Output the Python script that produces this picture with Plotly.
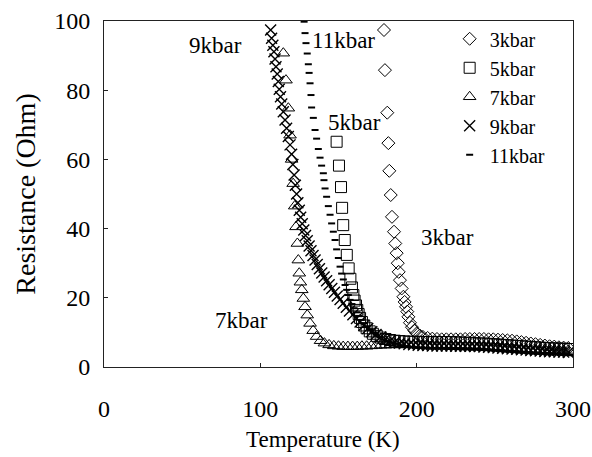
import plotly.graph_objects as go

# ---- data (Temperature K, Resistance Ohm) ----
kbar3 = [(179.1, 97.4), (179.7, 85.8), (181.2, 73.5), (181.9, 64.7), (182.5, 56.7),
         (183.4, 49.7), (184.2, 43.4), (185.5, 39.1), (186.3, 35.7), (187.2, 32.9),
         (187.9, 30.0), (188.5, 27.5), (189.3, 25.1), (190.4, 22.7), (191.5, 20.3),
         (192.3, 18.8), (193.2, 17.4), (194.0, 16.0), (194.7, 14.5), (195.7, 12.8),
         (197.0, 11.5), (198.5, 10.5), (200.0, 9.7), (202.0, 9.1), (204.0, 8.7),
         (207, 8.4), (210, 8.2), (213, 8.1), (216, 8.0), (219, 8.0), (222, 8.0),
         (225, 8.0), (228, 8.0), (231, 8.1), (234, 8.1), (237, 8.1), (240, 8.1),
         (243, 8.1), (246, 8.0), (249, 8.0), (252, 7.9), (255, 7.8), (258, 7.7),
         (261, 7.6), (264, 7.4), (267, 7.2), (270, 7.0), (273, 6.8), (276, 6.6),
         (279, 6.4), (282, 6.2), (285, 6.0), (288, 5.9), (291, 5.7), (294, 5.6),
         (297, 5.5)]

kbar5 = [(148.8, 65.1), (150.3, 58.2), (151.6, 52.0), (152.3, 46.0), (153.0, 41.0),
         (154.0, 36.7), (155.3, 32.4), (156.5, 28.5), (157.6, 25.5), (158.6, 23.0),
         (159.5, 20.8), (160.3, 19.2), (161.2, 17.8), (162.0, 16.5), (162.9, 15.3),
         (163.8, 14.2), (165.0, 13.0), (166.5, 12.0), (168.0, 11.2), (170.0, 10.3),
         (172.0, 9.6), (174.5, 9.0), (177.0, 8.5), (180.0, 8.1), (183.0, 7.8),
         (186.0, 7.6), (189.0, 7.5), (192, 7.4), (195, 7.3), (198, 7.3), (201, 7.3),
         (204, 7.2), (207, 7.2), (210, 7.2), (213, 7.2), (216, 7.2), (219, 7.2),
         (222, 7.2), (225, 7.1), (228, 7.1), (231, 7.0), (234, 7.0), (237, 6.9),
         (240, 6.8), (243, 6.8), (246, 6.7), (249, 6.6), (252, 6.5), (255, 6.4),
         (258, 6.3), (261, 6.2), (264, 6.1), (267, 6.0), (270, 5.9), (273, 5.8),
         (276, 5.7), (279, 5.6), (282, 5.5), (285, 5.4), (288, 5.4), (291, 5.3),
         (294, 5.3), (297, 5.2)]

kbar7 = [(114.7, 90.7), (116.4, 82.9), (117.9, 74.8), (119.0, 67.0), (120.0, 60.0),
         (121.0, 53.0), (122.0, 46.5), (122.8, 40.5), (123.7, 35.7), (124.3, 30.9),
         (124.9, 27.1), (125.6, 24.5), (126.5, 22.3), (127.5, 19.8), (128.6, 17.4),
         (130.0, 15.0), (131.8, 12.6), (133.8, 10.5), (136.0, 8.8), (138.5, 7.6),
         (141, 6.9), (144, 6.4), (147, 6.1), (150, 6.0), (153, 5.9), (156, 5.9),
         (159, 5.9), (162, 5.9), (165, 6.0), (168, 6.0), (171, 6.1), (174, 6.2),
         (177, 6.3), (180, 6.3), (183, 6.4), (186, 6.4), (189, 6.4), (192, 6.4),
         (195, 6.4), (198, 6.4), (201, 6.4), (204, 6.4), (207, 6.4), (210, 6.4),
         (213, 6.4), (216, 6.3), (219, 6.3), (222, 6.3), (225, 6.2), (228, 6.2),
         (231, 6.1), (234, 6.1), (237, 6.0), (240, 6.0), (243, 5.9), (246, 5.8),
         (249, 5.7), (252, 5.7), (255, 5.6), (258, 5.5), (261, 5.4), (264, 5.4),
         (267, 5.3), (270, 5.2), (273, 5.1), (276, 5.1), (279, 5.0), (282, 5.0),
         (285, 4.9), (288, 4.9), (291, 4.8), (294, 4.8), (297, 4.8)]

kbar9 = [(106.6, 97.4), (107.2, 95.0), (108.0, 93.0), (108.7, 91.1), (109.4, 89.0),
         (110.0, 86.8), (110.8, 84.7), (111.5, 82.5), (112.1, 80.3), (112.9, 78.1),
         (113.7, 76.0), (114.7, 73.8), (115.8, 71.4), (116.8, 69.0), (117.9, 66.6),
         (119.0, 64.2), (120.0, 61.5), (120.8, 58.5), (121.6, 55.5), (122.4, 52.5),
         (123.2, 50.0), (124.0, 47.5), (124.9, 45.3), (125.8, 43.3), (126.8, 41.4),
         (127.8, 39.6), (128.9, 38.0), (130.0, 36.5), (131.2, 35.0), (132.4, 33.6),
         (133.7, 32.2), (135.0, 30.9), (136.4, 29.6), (137.8, 28.4), (139.3, 27.2),
         (140.8, 26.0), (142.4, 24.9), (144.0, 23.8), (145.7, 22.7), (147.4, 21.6),
         (149.2, 20.5), (151.0, 19.5), (153.0, 18.4), (155.0, 17.3), (157.0, 16.2),
         (159.2, 15.1), (161.5, 14.0), (163.8, 13.0), (166.2, 12.0), (168.7, 11.1),
         (171.3, 10.2), (174.0, 9.4), (177.0, 8.7), (180.0, 8.1), (183.0, 7.6),
         (186.0, 7.2), (189.0, 6.9), (192.0, 6.7), (195.0, 6.5), (198.0, 6.4),
         (201, 6.3), (204, 6.2), (207, 6.2), (210, 6.1), (213, 6.1), (216, 6.1),
         (219, 6.1), (222, 6.1), (225, 6.0), (228, 6.0), (231, 6.0), (234, 6.0),
         (237, 5.9), (240, 5.9), (243, 5.8), (246, 5.7), (249, 5.6), (252, 5.5),
         (255, 5.4), (258, 5.3), (261, 5.2), (264, 5.1), (267, 5.0), (270, 4.9),
         (273, 4.8), (276, 4.7), (279, 4.6), (282, 4.5), (285, 4.4), (288, 4.4),
         (291, 4.3), (294, 4.3), (297, 4.2)]

kbar11 = [(128.0, 99.8), (128.6, 96.5), (129.2, 93.6), (130.0, 90.6), (130.7, 87.5),
          (131.2, 85.0), (131.8, 82.0), (132.4, 78.6), (132.8, 75.0), (133.9, 72.0),
          (135.0, 68.5), (136.0, 66.0), (137.1, 63.0), (138.2, 60.5), (139.2, 58.2),
          (140.3, 56.0), (140.7, 54.0), (141.4, 51.6), (142.4, 49.2), (143.5, 46.5),
          (144.6, 44.0), (145.6, 41.5), (146.7, 39.1), (147.8, 36.7), (148.8, 34.0),
          (149.9, 31.5), (151.0, 29.0), (152.0, 27.0), (153.1, 25.3), (154.2, 23.7),
          (155.2, 22.3), (156.3, 20.8), (157.4, 19.4), (158.6, 18.2), (160.0, 17.0),
          (161.5, 15.8), (163.0, 14.7), (164.6, 13.6), (166.3, 12.6), (168.0, 11.7),
          (170.0, 10.8), (172.0, 10.0), (174.0, 9.3), (176.5, 8.6), (179.0, 8.0),
          (181.5, 7.5), (184.0, 7.1), (187.0, 6.7), (190.0, 6.3), (193.0, 6.0),
          (196.0, 5.8), (199.0, 5.6), (202, 5.5), (205, 5.4), (208, 5.4), (211, 5.3),
          (214, 5.3), (217, 5.3), (220, 5.2), (223, 5.2), (226, 5.2), (229, 5.1),
          (232, 5.1), (235, 5.0), (238, 5.0), (241, 4.9), (244, 4.9), (247, 4.8),
          (250, 4.7), (253, 4.6), (256, 4.5), (259, 4.4), (262, 4.3), (265, 4.2),
          (268, 4.1), (271, 4.0), (274, 3.9), (277, 3.8), (280, 3.8), (283, 3.7),
          (286, 3.6), (289, 3.6), (292, 3.5), (295, 3.5), (298, 3.4)]

series_names = ["3kbar", "5kbar", "7kbar", "9kbar", "11kbar"]
series_data = [kbar3, kbar5, kbar7, kbar9, kbar11]

# in-plot labels: (text, T, R)
labels = [("9kbar", 71.6, 93.0), ("11kbar", 153.5, 94.5), ("5kbar", 160.0, 70.8),
          ("3kbar", 220.0, 37.3), ("7kbar", 88.0, 13.3)]

x_ticks = [0, 100, 200, 300]
y_ticks = [0, 20, 40, 60, 80, 100]

FONT = "Liberation Serif"
styles = [
    dict(symbol="diamond-open", size=10, line=dict(width=1, color="black")),
    dict(symbol="square-open", size=11, line=dict(width=1, color="black")),
    dict(symbol="triangle-up-open", size=11, line=dict(width=1, color="black")),
    dict(symbol="x-thin-open", size=11, line=dict(width=1.4, color="black")),
    dict(symbol="line-ew-open", size=5, line=dict(width=2, color="black")),
]

fig = go.Figure()
for name, data, st in zip(series_names, series_data, styles):
    fig.add_trace(go.Scatter(
        x=[p[0] for p in data], y=[p[1] for p in data],
        mode="markers", name=name,
        marker=dict(color="black", **st),
    ))

for text, tx, ty in labels:
    fig.add_annotation(x=tx, y=ty, text=text, showarrow=False,
                       font=dict(family=FONT, size=23, color="black"))

fig.add_annotation(x=0.467, y=-0.21, xref="paper", yref="paper", yanchor="middle",
                   text="Temperature (K)", showarrow=False,
                   font=dict(family=FONT, size=23, color="black"))

axis_common = dict(showgrid=False, zeroline=False, showline=True, linecolor="#222",
                   linewidth=1, mirror=True, ticks="inside", ticklen=4,
                   tickcolor="#222", automargin=False,
                   tickfont=dict(family=FONT, size=24, color="black"))

fig.update_xaxes(range=[0, 300], tickvals=x_ticks, ticklabelstandoff=20, **axis_common)
fig.update_yaxes(range=[0, 100], tickvals=y_ticks, ticklabelstandoff=8,
                 title=dict(text="Resistance (Ohm)", standoff=10,
                            font=dict(family=FONT, size=28, color="black")),
                 **axis_common)

fig.update_layout(
    width=592, height=457,
    margin=dict(l=104, r=19, t=21, b=90, autoexpand=False),
    paper_bgcolor="white", plot_bgcolor="white",
    font=dict(family=FONT),
    showlegend=True,
    legend=dict(x=0.737, y=1.005, xanchor="left", yanchor="top",
                bgcolor="rgba(0,0,0,0)", borderwidth=0,
                font=dict(family=FONT, size=20, color="black"),
                itemsizing="trace", tracegroupgap=0),
)

fig.write_html("out.html")
